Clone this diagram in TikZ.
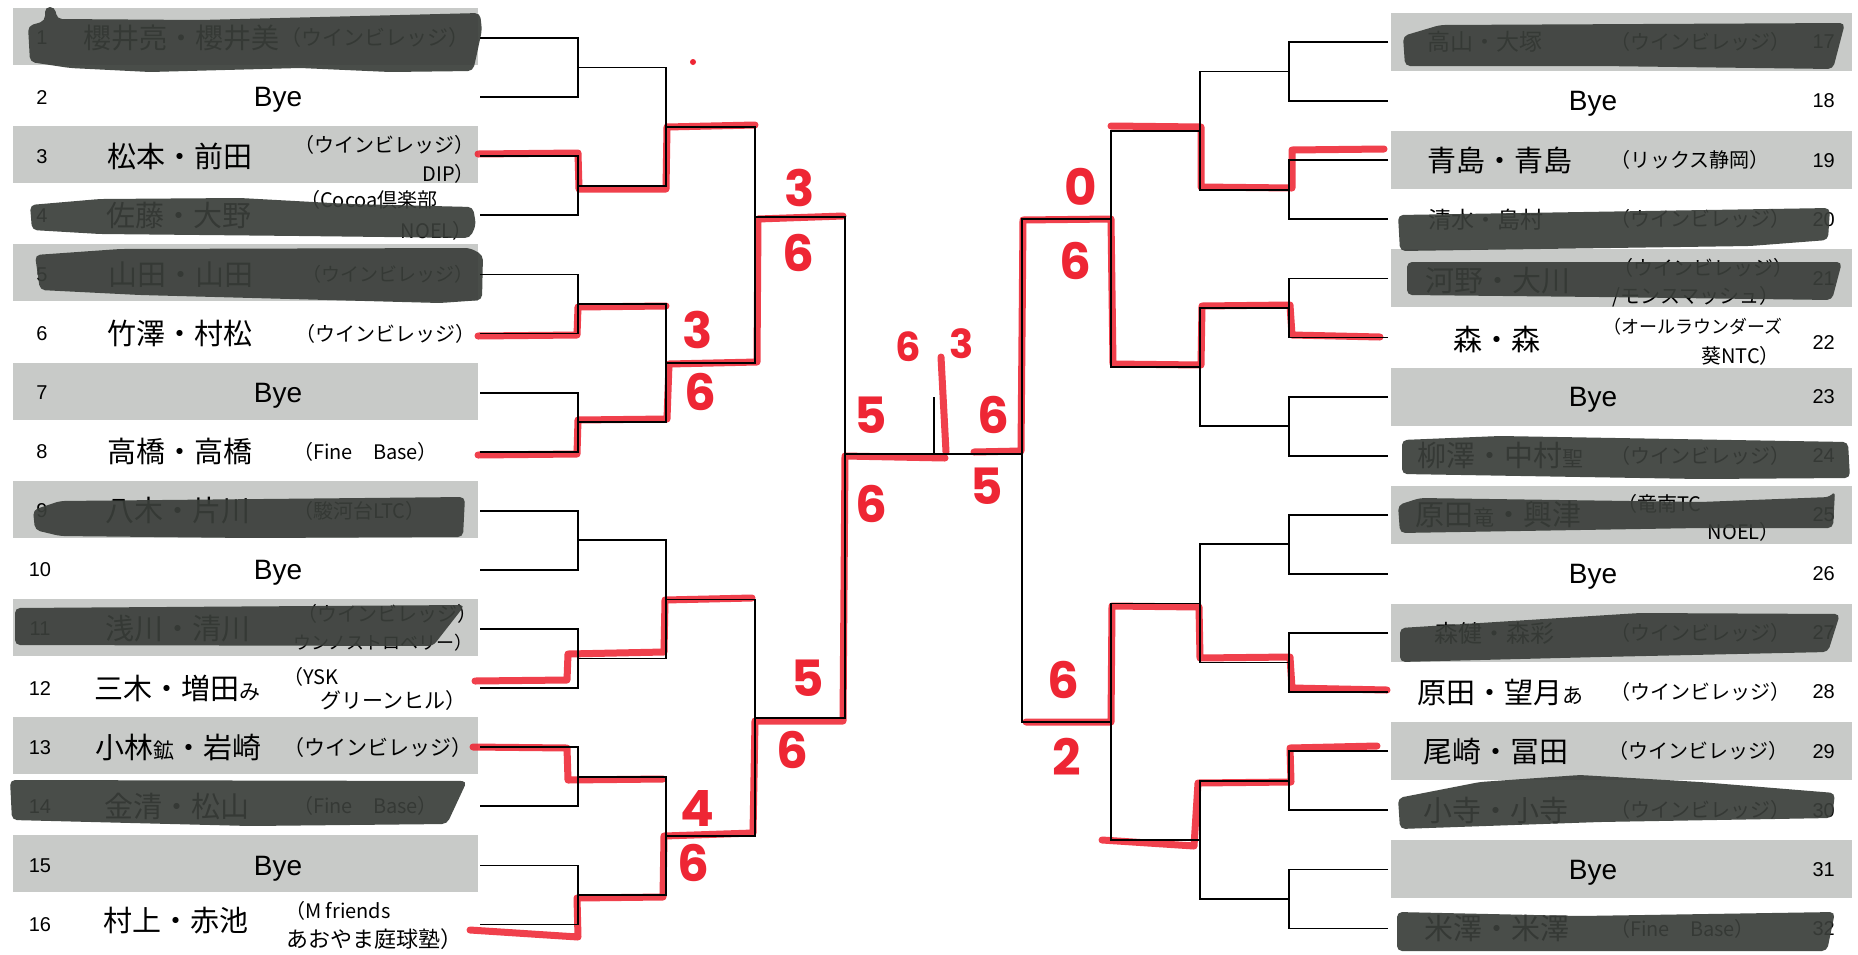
\documentclass[tikz,border=0pt]{standalone}
\usepackage{fontspec}
\setmainfont{Liberation Sans}
\newfontfamily\jp{Noto Sans CJK JP}
\newfontfamily\hand{Poppins}
\definecolor{boxg}{RGB}{200,202,200}
\definecolor{mk}{RGB}{58,62,58}
\definecolor{pen}{RGB}{238,38,52}
\newcommand\smallch[1]{{\fontsize{21}{21}\selectfont #1}}
\begin{document}
\begin{tikzpicture}[x=1pt,y=-1pt,
  num/.style={font=\fontsize{20}{20}\selectfont, inner sep=0pt},
  byet/.style={font=\fontsize{28}{28}\selectfont, inner sep=0pt, text depth=0pt},
  nm/.style={font=\jp\fontsize{29}{29}\selectfont, inner sep=0pt},
  nms/.style={font=\jp\fontsize{23}{23}\selectfont, inner sep=0pt},
  club/.style={font=\jp\fontsize{20}{20}\selectfont, inner sep=0pt},
  clubs/.style={font=\jp\fontsize{18}{18}\selectfont, inner sep=0pt},
  clubl/.style={font=\jp\fontsize{21}{21}\selectfont, inner sep=0pt},
  br/.style={draw=black, line width=1.8pt},
  penline/.style={draw=pen, line width=7pt, line cap=round, line join=round, draw opacity=0.88},
  score/.style={text=pen, font=\hand\bfseries\fontsize{50}{50}\selectfont, inner sep=0pt},
  scoresm/.style={text=pen, font=\hand\bfseries\fontsize{40}{40}\selectfont, inner sep=0pt},
  inkblot/.style={fill=mk, fill opacity=0.92, rounded corners=5pt},
  gbox/.style={fill=boxg},
]
\useasboundingbox (0,0) rectangle (1858,954);
\fill[white] (0,0) rectangle (1858,954);

% grey boxes
\foreach \i in {1,3,...,15} {\pgfmathsetmacro\yy{38+(\i-1)*59.1} \fill[gbox] (13,\yy-30) rectangle (478,\yy+27);}
\foreach \j in {17,19,...,31} {\pgfmathsetmacro\yy{42+(\j-17)*59.1} \fill[gbox] (1391,\yy-29) rectangle (1852,\yy+29);}

% ---------- left entries ----------
\node[num] (num1) at (42,38) {1};
\node[nm, font=\jp\fontsize{28}{28}\selectfont] (name1) at (181,38) {櫻井亮・櫻井美};
\node[clubl, anchor=west] (club1) at (280,38) {（ウインビレッジ）};
\node[num] (num2) at (42,97.1) {2};
\node[byet] (bye2) at (278,97.1) {Bye};
\node[num] (num3) at (42,156.2) {3};
\node[nm] (name3) at (180,156.2) {松本・前田};
\node[club, anchor=east] (club3a) at (475,145) {（ウインビレッジ）};
\node[club, anchor=east] (club3b) at (475,174) {DIP）};
\node[num] (num4) at (42,215.3) {4};
\node[nm] (name4) at (179,216) {佐藤・大野};
\node[club, anchor=west] (club4a) at (300,200) {（Cocoa倶楽部};
\node[club, anchor=east] (club4b) at (473,231) {NOEL）};
\node[num] (num5) at (42,274.4) {5};
\node[nm] (name5) at (181,274.4) {山田・山田};
\node[club, font=\jp\fontsize{19}{19}\selectfont, anchor=west] (club5) at (302,274.4) {（ウインビレッジ）};
\node[num] (num6) at (42,333.5) {6};
\node[nm] (name6) at (180,333.5) {竹澤・村松};
\node[club, anchor=west] (club6) at (295,333.5) {（ウインビレッジ）};
\node[num] (num7) at (42,392.6) {7};
\node[byet] (bye7) at (278,392.6) {Bye};
\node[num] (num8) at (42,451.7) {8};
\node[nm] (name8) at (180,451.7) {高橋・高橋};
\node[club, anchor=west] (club8) at (293,451.7) {（Fine　Base）};
\node[num] (num9) at (42,510.8) {9};
\node[nm] (name9) at (178,510.8) {八木・片川};
\node[club, anchor=west] (club9) at (293,510.8) {（駿河台LTC）};
\node[num] (num10) at (40,569.9) {10};
\node[byet] (bye10) at (278,569.9) {Bye};
\node[num] (num11) at (40,629) {11};
\node[nm] (name11) at (178,629) {浅川・清川};
\node[club, anchor=west] (club11a) at (297,614) {（ウインビレッジ）};
\node[clubs, anchor=east] (club11b) at (473,643) {ウンノストロベリー）};
\node[num] (num12) at (40,688.1) {12};
\node[nm] (name12) at (177,688.1) {三木・増田\smallch{み}};
\node[club, anchor=west] (club12a) at (283,677) {（YSK};
\node[clubl, anchor=east] (club12b) at (467,701) {グリーンヒル）};
\node[num] (num13) at (40,747.2) {13};
\node[nm] (name13) at (178,747.2) {小林\smallch{鉱}・岩崎};
\node[clubl, anchor=west] (club13) at (283,747.2) {（ウインビレッジ）};
\node[num] (num14) at (40,806.3) {14};
\node[nm] (name14) at (177,806.3) {金清・松山};
\node[club, anchor=west] (club14) at (293,806.3) {（Fine　Base）};
\node[num] (num15) at (40,865.4) {15};
\node[byet] (bye15) at (278,865.4) {Bye};
\node[num] (num16) at (40,924.5) {16};
\node[nm] (name16) at (176,921) {村上・赤池};
\node[club, anchor=west] (club16a) at (285,911) {（M friends};
\node[club, font=\jp\fontsize{22}{22}\selectfont, anchor=east] (club16b) at (463,939) {あおやま庭球塾）};

% ---------- right entries ----------
\node[nms, anchor=west] (name17) at (1427,42) {高山・大塚};
\node[club, anchor=west] (club17) at (1610,42) {（ウインビレッジ）};
\node[num, anchor=east] (num17) at (1835,42) {17};
\node[byet] (bye18) at (1593,101.1) {Bye};
\node[num, anchor=east] (num18) at (1835,101.1) {18};
\node[nm] (name19) at (1500,160.2) {青島・青島};
\node[club, anchor=west] (club19) at (1610,160.2) {（リックス静岡）};
\node[num, anchor=east] (num19) at (1835,160.2) {19};
\node[nms, anchor=west] (name20) at (1428,219.3) {清水・島村};
\node[club, anchor=west] (club20) at (1610,219.3) {（ウインビレッジ）};
\node[num, anchor=east] (num20) at (1835,219.3) {20};
\node[nm] (name21) at (1498,281) {河野・大川};
\node[club, anchor=west] (club21a) at (1613,268) {（ウインビレッジ）};
\node[club, anchor=east] (club21b) at (1780,297) {/モンスマッシュ）};
\node[num, anchor=east] (num21) at (1835,278.4) {21};
\node[nm] (name22) at (1497,339) {森・森};
\node[clubs, anchor=west] (club22a) at (1603,327) {（オールラウンダーズ};
\node[club, anchor=east] (club22b) at (1780,356) {葵NTC）};
\node[num, anchor=east] (num22) at (1835,343) {22};
\node[byet] (bye23) at (1593,396.6) {Bye};
\node[num, anchor=east] (num23) at (1835,396.6) {23};
\node[nm] (name24) at (1500,455.7) {柳澤・中村\smallch{聖}};
\node[club, anchor=west] (club24) at (1610,455.7) {（ウインビレッジ）};
\node[num, anchor=east] (num24) at (1835,455.7) {24};
\node[nm] (name25) at (1498,514.8) {原田\smallch{竜}・興津};
\node[club, anchor=west] (club25a) at (1617,504) {（竜南TC};
\node[club, anchor=east] (club25b) at (1780,532) {NOEL）};
\node[num, anchor=east] (num25) at (1835,514.8) {25};
\node[byet] (bye26) at (1593,573.9) {Bye};
\node[num, anchor=east] (num26) at (1835,573.9) {26};
\node[nm, font=\jp\fontsize{24}{24}\selectfont] (name27) at (1494,633) {森健・森彩};
\node[club, anchor=west] (club27) at (1610,633) {（ウインビレッジ）};
\node[num, anchor=east] (num27) at (1835,633) {27};
\node[nm] (name28) at (1500,692.1) {原田・望月\smallch{あ}};
\node[club, anchor=west] (club28) at (1610,692.1) {（ウインビレッジ）};
\node[num, anchor=east] (num28) at (1835,692.1) {28};
\node[nm] (name29) at (1496,751.2) {尾崎・冨田};
\node[club, anchor=west] (club29) at (1608,751.2) {（ウインビレッジ）};
\node[num, anchor=east] (num29) at (1835,751.2) {29};
\node[nm] (name30) at (1496,810.3) {小寺・小寺};
\node[club, anchor=west] (club30) at (1610,810.3) {（ウインビレッジ）};
\node[num, anchor=east] (num30) at (1835,810.3) {30};
\node[byet] (bye31) at (1593,869.4) {Bye};
\node[num, anchor=east] (num31) at (1835,869.4) {31};
\node[nm] (name32) at (1497,928.5) {米澤・米澤};
\node[club, anchor=west] (club32) at (1610,928.5) {（Fine　Base）};
\node[num, anchor=east] (num32) at (1835,928.5) {32};

% ---------- marker blots ----------
\fill[inkblot] (28,26) -- (45,21) -- (45,7) -- (55,7) -- (57,19) -- (200,20) -- (480,13) -- (482,30) -- (476,58) -- (473,71) -- (390,72) -- (300,68) -- (150,72) -- (70,68) -- (30,62) -- cycle;
\fill[inkblot] (30,205) -- (100,199) -- (240,198) -- (350,204) -- (473,207) -- (476,225) -- (470,238) -- (300,236) -- (100,234) -- (32,230) -- cycle;
\fill[inkblot] (35,255) -- (120,249) -- (470,248) -- (483,255) -- (482,300) -- (440,303) -- (140,295) -- (40,290) -- cycle;
\fill[inkblot] (33,510) -- (60,501) -- (465,497) -- (463,537) -- (250,538) -- (60,536) -- (35,530) -- cycle;
\fill[inkblot] (15,608) -- (465,605) -- (433,646) -- (15,645) -- cycle;
\fill[inkblot] (10,780) -- (467,781) -- (447,824) -- (250,826) -- (12,820) -- cycle;
\fill[inkblot] (1403,36) -- (1440,25) -- (1845,23) -- (1833,69) -- (1600,66) -- (1405,66) -- cycle;
\fill[inkblot] (1398,215) -- (1830,208) -- (1828,240) -- (1750,246) -- (1400,251) -- cycle;
\fill[inkblot] (1407,262) -- (1842,262) -- (1832,300) -- (1600,297) -- (1407,295) -- cycle;
\fill[inkblot] (1402,440) -- (1500,436) -- (1848,442) -- (1850,478) -- (1700,479) -- (1402,474) -- cycle;
\fill[inkblot] (1398,505) -- (1420,498) -- (1700,502) -- (1830,497) -- (1835,491) -- (1833,528) -- (1700,528) -- (1400,533) -- cycle;
\fill[inkblot] (1400,628) -- (1640,613) -- (1840,614) -- (1828,652) -- (1600,657) -- (1400,662) -- cycle;
\fill[inkblot] (1398,798) -- (1480,782) -- (1580,775) -- (1700,782) -- (1835,793) -- (1832,818) -- (1600,822) -- (1400,829) -- cycle;
\fill[inkblot] (1397,912) -- (1580,916) -- (1835,912) -- (1827,951) -- (1397,951) -- cycle;

% ---------- red pen ----------
\draw[penline] (478,154) -- (578,153) -- (579,189) -- (666,189) -- (667,127) -- (755,125);
\draw[penline] (478,336) -- (577,335) -- (578,307) -- (666,306);
\draw[penline] (478,455) -- (577,454) -- (578,420) -- (667,419) -- (669,364) -- (757,362) -- (758,219) -- (843,216);
\draw[penline] (475,681) -- (567,680) -- (568,654) -- (664,652) -- (665,600) -- (752,598);
\draw[penline] (473,747) -- (567,748) -- (568,780) -- (663,779);
\draw[penline] (470,930) -- (578,937) -- (577,898) -- (663,897) -- (664,836) -- (753,833) -- (755,721) -- (843,721) -- (845,456) -- (945,458);
\draw[penline] (941,357) -- (946,452);
\draw[penline] (1384,149) -- (1292,150) -- (1292,188) -- (1201,187) -- (1201,127) -- (1111,126);
\draw[penline] (1380,337) -- (1292,335) -- (1290,305) -- (1202,306) -- (1201,365) -- (1113,364) -- (1111,219) -- (1023,220) -- (1021,451) -- (974,452);
\draw[penline] (1387,690) -- (1292,688) -- (1290,657) -- (1200,658) -- (1199,607) -- (1112,606) -- (1111,722) -- (1026,722);
\draw[penline] (1377,746) -- (1290,748) -- (1291,782) -- (1198,783) -- (1194,846) -- (1102,840);
\fill[pen] (693,62) circle (3);

% ---------- bracket (black) ----------
\foreach \i in {1,...,16} {\coordinate (L\i) at (480,{38+(\i-1)*59.1});}
\foreach \k in {1,...,8} {\coordinate (a\k) at (578,{38+(2*\k-2)*59.1+29.55});}
\foreach \m in {1,...,4} {\coordinate (b\m) at (666,{38+(4*\m-4)*59.1+88.65});}
\coordinate (c1) at (755,217);
\coordinate (c2) at (755,717.65);
\coordinate (d1) at (845,454);
\foreach \j in {17,...,32} {\coordinate (R\j) at (1388,{42+(\j-17)*59.1});}
\foreach \k in {1,...,8} {\coordinate (ra\k) at (1289,{42+(2*\k-2)*59.1+29.55});}
\foreach \m in {1,...,4} {\coordinate (rb\m) at (1200,{42+(4*\m-4)*59.1+88.65});}
\coordinate (rc1) at (1111,219);
\coordinate (rc2) at (1111,721.65);
\coordinate (rd) at (1022,454);
\coordinate (fin) at (934,454);
\coordinate (win) at (934,397);

\foreach \k in {1,...,8} {
  \pgfmathtruncatemacro\u{2*\k-1}\pgfmathtruncatemacro\v{2*\k}
  \draw[br] (L\u) -| (a\k) |- (L\v);
  \pgfmathtruncatemacro\uu{2*\k+15}\pgfmathtruncatemacro\vv{2*\k+16}
  \draw[br] (R\uu) -| (ra\k) |- (R\vv);
}
\foreach \m in {1,...,4} {
  \pgfmathtruncatemacro\u{2*\m-1}\pgfmathtruncatemacro\v{2*\m}
  \draw[br] (a\u) -| (b\m) |- (a\v);
  \draw[br] (ra\u) -| (rb\m) |- (ra\v);
}
\draw[br] (b1) -| (c1) |- (b2);
\draw[br] (b3) -| (c2) |- (b4);
\draw[br] (rb1) -| (rc1) |- (rb2);
\draw[br] (rb3) -| (rc2) |- (rb4);
\draw[br] (c1) -| (d1) |- (c2);
\draw[br] (rc1) -| (rd) |- (rc2);
\draw[br] (d1) -- (fin) -- (rd);
\draw[br] (fin) -- (win);

% ---------- handwritten scores ----------
\node[score] (s1a) at (698,330) {3};
\node[score] (s1b) at (700,392) {6};
\node[score] (s2a) at (800,188) {3};
\node[score] (s2b) at (798,253) {6};
\node[score] (s3a) at (697,808) {4};
\node[score] (s3b) at (693,863) {6};
\node[score] (s4a) at (808,678) {5};
\node[score] (s4b) at (792,750) {6};
\node[score] (s5a) at (871,415) {5};
\node[score] (s5b) at (871,504) {6};
\node[scoresm] (s6a) at (908,347) {6};
\node[scoresm] (s6b) at (962,344) {3};
\node[score] (s7a) at (993,415) {6};
\node[score] (s7b) at (987,486) {5};
\node[score] (s8a) at (1081,187) {0};
\node[score] (s8b) at (1075,261) {6};
\node[score] (s9a) at (1063,680) {6};
\node[score] (s9b) at (1067,757) {2};
\end{tikzpicture}
\end{document}
